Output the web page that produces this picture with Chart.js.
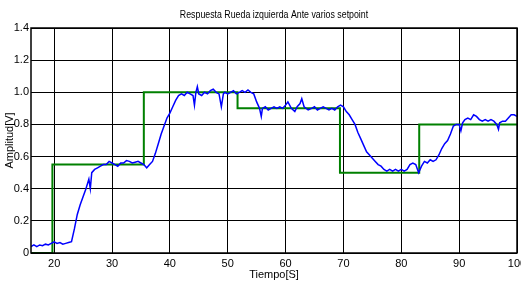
<!DOCTYPE html>
<html><head><meta charset="utf-8">
<script src="https://cdn.jsdelivr.net/npm/chart.js@4/dist/chart.umd.min.js"></script>
<style>html,body{margin:0;padding:0;background:#fff}#wrap{width:521px;height:282px}</style>
</head><body><div id="wrap"><canvas id="c" width="521" height="282"></canvas></div>
<script>
const titleText = "Respuesta Rueda izquierda Ante varios setpoint";
const xTitle = "Tiempo[S]";
const yTitle = "Amplitud[V]";
const xTicks = [20, 30, 40, 50, 60, 70, 80, 90, 100];
const yTicks = [0, 0.2, 0.4, 0.6, 0.8, 1, 1.2, 1.4];

const setpointTime  = [16, 19.7, 19.7, 35.5, 35.5, 51.7, 51.7, 69.4, 69.4, 83.1, 83.1, 100];
const setpointValue = [0, 0, 0.55, 0.55, 1.0, 1.0, 0.9, 0.9, 0.5, 0.5, 0.8, 0.8];

const responseTime = [16,16.5,17,17.5,18,18.5,19,19.5,20,20.5,21,21.5,22,22.5,23,23.5,24,24.5,25,25.5,26,26.25,26.5,27,27.5,28,28.5,29,29.5,30,30.5,31,31.5,32,32.5,33,33.5,34,34.5,35,35.5,36,36.5,37,37.5,38,38.5,39,39.5,40,40.5,41,41.5,42,42.5,43,43.5,44,44.25,44.5,44.75,45,45.5,46,46.5,47,47.5,48,48.5,48.9,49.25,49.5,50,50.5,51,51.5,52,52.5,53,53.5,54,54.5,55,55.5,55.8,56,56.5,57,57.5,58,58.5,59,59.5,60,60.4,61,61.6,62,62.5,62.8,63.2,63.9,64.5,65,65.5,66,66.5,67,67.5,68,68.5,69,69.5,70,70.5,71,71.5,72,72.5,73,73.5,74,74.5,75,75.5,76,76.5,77,77.5,78,78.5,79,79.5,80,80.5,81,81.5,82,82.5,83,83.5,84,84.5,85,85.5,86,86.5,87,87.5,88,88.5,89,89.5,90,90.3,90.6,91,91.5,92,92.5,93,93.5,94,94.5,95,95.5,96,96.5,96.8,97,97.5,98,98.5,99,99.5,100];
const responseValue = [0.04,0.05,0.04,0.05,0.045,0.055,0.05,0.06,0.07,0.06,0.065,0.055,0.06,0.065,0.07,0.15,0.24,0.30,0.35,0.40,0.46,0.40,0.50,0.52,0.53,0.54,0.55,0.55,0.57,0.56,0.55,0.54,0.56,0.56,0.575,0.57,0.56,0.565,0.57,0.56,0.55,0.53,0.55,0.57,0.62,0.68,0.74,0.79,0.84,0.87,0.91,0.95,0.98,0.99,0.98,1.0,0.99,0.98,0.92,1.0,1.035,0.99,0.98,1.0,0.99,1.01,1.02,1.0,0.99,0.91,0.99,1.0,0.99,1.0,1.01,0.99,1.0,1.01,1.0,1.015,1.0,0.99,0.94,0.90,0.85,0.90,0.91,0.89,0.90,0.91,0.90,0.91,0.90,0.92,0.94,0.90,0.88,0.91,0.93,0.96,0.91,0.89,0.90,0.91,0.89,0.90,0.91,0.90,0.89,0.90,0.89,0.91,0.92,0.91,0.88,0.86,0.83,0.80,0.75,0.71,0.67,0.63,0.61,0.59,0.57,0.55,0.54,0.52,0.51,0.52,0.51,0.52,0.51,0.52,0.51,0.52,0.55,0.56,0.55,0.50,0.54,0.57,0.56,0.58,0.57,0.58,0.61,0.65,0.68,0.70,0.74,0.79,0.80,0.80,0.76,0.81,0.83,0.84,0.83,0.86,0.85,0.83,0.82,0.83,0.82,0.83,0.82,0.80,0.77,0.81,0.82,0.82,0.84,0.86,0.86,0.85];

const FONT = "'Liberation Sans', Arial, sans-serif";

const boxPlugin = {
  id: 'box',
  afterDatasetsDraw(chart) {
    const a = chart.chartArea, ctx = chart.ctx;
    ctx.save();
    ctx.strokeStyle = '#000';
    ctx.lineWidth = 1.5;
    ctx.strokeRect(a.left, a.top, a.right - a.left, a.bottom - a.top);
    ctx.restore();
  }
};

const narrowTitle = {
  id: 'narrowTitle',
  afterDraw(chart) {
    const a = chart.chartArea, ctx = chart.ctx;
    ctx.save();
    ctx.font = "11px " + FONT;
    ctx.fillStyle = '#000';
    ctx.textAlign = 'center';
    ctx.textBaseline = 'middle';
    ctx.translate((a.left + a.right) / 2, 15);
    ctx.scale(0.8, 1);
    ctx.fillText(titleText, 0, 0);
    ctx.restore();
  }
};

new Chart(document.getElementById('c'), {
  type: 'line',
  data: {
    datasets: [
      {
        label: 'respuesta',
        data: responseTime.map((t, i) => ({x: t, y: responseValue[i]})),
        borderColor: '#0000ff', borderWidth: 1.5, pointRadius: 0, tension: 0, fill: false
      },
      {
        label: 'setpoint',
        data: setpointTime.map((t, i) => ({x: t, y: setpointValue[i]})),
        borderColor: '#008000', borderWidth: 2, pointRadius: 0, tension: 0, fill: false
      }
    ]
  },
  options: {
    responsive: false, animation: false, devicePixelRatio: 1,
    layout: { padding: { left: 0, right: 4, top: 28, bottom: 0 } },
    plugins: {
      legend: { display: false }, tooltip: { enabled: false },
      title: { display: false }
    },
    scales: {
      x: {
        type: 'linear', min: 16, max: 100,
        afterBuildTicks: s => { s.ticks = xTicks.map(v => ({value: v})); },
        afterFit: s => { s.height = 29; s.paddingRight = 0; s.paddingLeft = 0; },
        grid: { color: '#000', lineWidth: 1, drawTicks: false },
        border: { display: false },
        ticks: { color: '#000', font: { family: FONT, size: 11 }, padding: 4, maxRotation: 0 },
        title: { display: true, text: xTitle, color: '#000', font: { family: FONT, size: 11 }, padding: { top: 0, bottom: 0 } }
      },
      y: {
        type: 'linear', min: 0, max: 1.4,
        afterBuildTicks: s => { s.ticks = yTicks.map(v => ({value: v})); },
        afterFit: s => { s.width = 31; s.paddingTop = 0; s.paddingBottom = 0; },
        grid: { color: '#000', lineWidth: 1, drawTicks: false },
        border: { display: false },
        ticks: { color: '#000', font: { family: FONT, size: 11 }, padding: 2 },
        title: { display: true, text: yTitle, color: '#000', font: { family: FONT, size: 11 }, padding: { top: 3, bottom: 0 } }
      }
    }
  },
  plugins: [boxPlugin, narrowTitle]
});
</script></body></html>
